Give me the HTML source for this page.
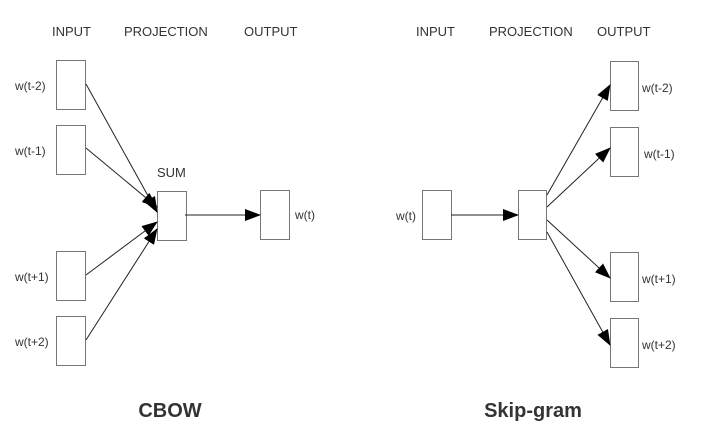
<!DOCTYPE html>
<html><head><meta charset="utf-8"><style>
html,body{margin:0;padding:0;background:#fff;}
svg{display:block;}
text{font-family:"Liberation Sans",Arial,sans-serif;fill:#333;}
</style></head><body>
<svg width="703" height="442" viewBox="0 0 703 442" xmlns="http://www.w3.org/2000/svg">
<defs>
<marker id="a" markerWidth="16" markerHeight="12" refX="15" refY="6" orient="auto" markerUnits="userSpaceOnUse">
<path d="M0,0 L16,6 L0,12 z" fill="#000"/>
</marker>
</defs>
<g font-size="13">
<text x="52" y="36">INPUT</text>
<text x="124" y="36">PROJECTION</text>
<text x="244" y="36">OUTPUT</text>
<text x="416" y="36">INPUT</text>
<text x="489" y="36">PROJECTION</text>
<text x="597" y="36">OUTPUT</text>
</g>
<g fill="#fff" stroke="#777" stroke-width="1">
<rect x="56.5" y="60.5" width="29" height="49"/>
<rect x="56.5" y="125.5" width="29" height="49"/>
<rect x="56.5" y="251.5" width="29" height="49"/>
<rect x="56.5" y="316.5" width="29" height="49"/>
<rect x="157.5" y="191.5" width="29" height="49"/>
<rect x="260.5" y="190.5" width="29" height="49"/>
<rect x="422.5" y="190.5" width="29" height="49"/>
<rect x="518.5" y="190.5" width="28" height="49"/>
<rect x="610.5" y="61.5" width="28" height="49"/>
<rect x="610.5" y="127.5" width="28" height="49"/>
<rect x="610.5" y="252.5" width="28" height="49"/>
<rect x="610.5" y="318.5" width="28" height="49"/>
</g>
<g font-size="12">
<text x="15" y="90">w(t-2)</text>
<text x="15" y="155">w(t-1)</text>
<text x="15" y="281">w(t+1)</text>
<text x="15" y="346">w(t+2)</text>
<text x="157" y="177" font-size="13">SUM</text>
<text x="295" y="219">w(t)</text>
<text x="396" y="220">w(t)</text>
<text x="642" y="92">w(t-2)</text>
<text x="644" y="158">w(t-1)</text>
<text x="642" y="283">w(t+1)</text>
<text x="642" y="349">w(t+2)</text>
</g>
<g stroke="#222" stroke-width="1" marker-end="url(#a)">
<line x1="86" y1="84" x2="157" y2="212"/>
<line x1="86" y1="148" x2="157" y2="207"/>
<line x1="86" y1="275" x2="157" y2="222"/>
<line x1="86" y1="340" x2="157" y2="229"/>
<line x1="185" y1="215" x2="260" y2="215"/>
<line x1="451" y1="215" x2="518" y2="215"/>
<line x1="547" y1="195" x2="610" y2="85"/>
<line x1="547" y1="207" x2="610" y2="148"/>
<line x1="547" y1="220" x2="610" y2="278"/>
<line x1="547" y1="232" x2="610" y2="345"/>
</g>
<text x="170" y="417" font-size="20" font-weight="bold" text-anchor="middle">CBOW</text>
<text x="533" y="417" font-size="20" font-weight="bold" text-anchor="middle">Skip-gram</text>
</svg>
</body></html>
